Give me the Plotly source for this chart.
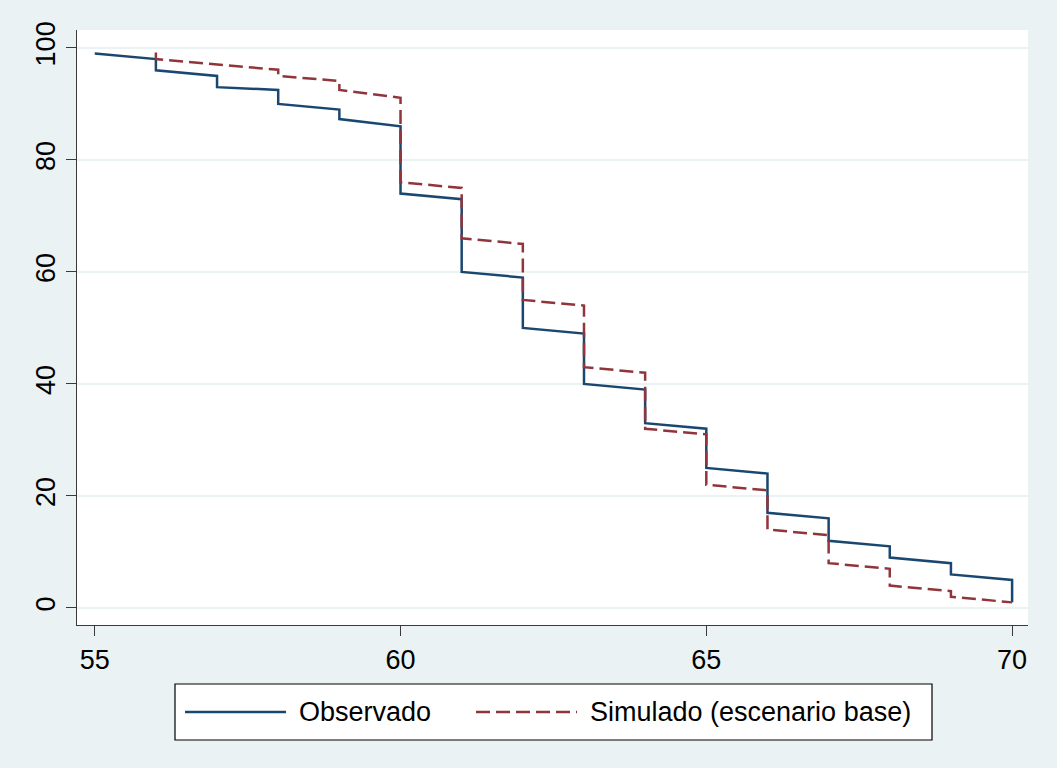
import plotly.graph_objects as go

# Observed series (step-like, declining within each year)
obs_x = [55, 56, 56, 57, 57, 58, 58, 59, 59, 60, 60, 61, 61, 62, 62, 63, 63, 64, 64, 65, 65, 66, 66, 67, 67, 68, 68, 69, 69, 70, 70]
obs_y = [99, 98, 96, 95, 93, 92.5, 90, 89, 87.3, 86, 74, 73, 60, 59, 50, 49, 40, 39, 33, 32, 25, 24, 17, 16, 12, 11, 9, 8, 6, 5, 1]

# Simulated (base scenario)
sim_x = [56, 56, 58, 58, 59, 59, 60, 60, 61, 61, 62, 62, 63, 63, 64, 64, 65, 65, 66, 66, 67, 67, 68, 68, 69, 69, 70]
sim_y = [99.2, 98, 96.1, 95, 94.1, 92.5, 91.1, 76, 75, 66, 65, 55, 54, 43, 42, 32, 31, 22, 21, 14, 13, 8, 7, 4, 3, 2, 1]

x_ticks = [55, 60, 65, 70]
y_ticks = [0, 20, 40, 60, 80, 100]
series_names = ["Observado", "Simulado (escenario base)"]

BLUE = "#1a476f"
RED = "#90353b"
BG = "#eaf2f3"
AXC = "#3a3a3a"
FONT = "Liberation Sans, Arial, sans-serif"
FS = 27

fig = go.Figure()
fig.add_trace(go.Scatter(x=obs_x, y=obs_y, mode="lines", name=series_names[0],
                         line=dict(color=BLUE, width=2.5)))
fig.add_trace(go.Scatter(x=sim_x, y=sim_y, mode="lines", name=series_names[1],
                         line=dict(color=RED, width=2.5, dash="14px,6px")))

fig.update_layout(
    width=1057, height=768,
    margin=dict(l=77, r=29, t=30, b=143),
    paper_bgcolor=BG, plot_bgcolor="white",
    showlegend=False,
    font=dict(family=FONT, size=FS, color="black"),
)
fig.update_xaxes(range=[54.71, 70.26], tickvals=x_ticks, showgrid=False, zeroline=False,
                 showline=True, linecolor=AXC, linewidth=1.3,
                 ticks="outside", ticklen=10, tickcolor=AXC, tickwidth=1.3,
                 ticklabelstandoff=0, tickfont=dict(size=FS))
fig.update_yaxes(range=[-3.04, 103.2], tickvals=y_ticks, showgrid=True, gridcolor=BG, gridwidth=2.2,
                 zeroline=False, showline=True, linecolor=AXC, linewidth=1.3,
                 ticks="outside", ticklen=10, tickcolor=AXC, tickwidth=1.3,
                 tickangle=-90, tickfont=dict(size=FS))

# Manual legend box (paper coordinates)
def px_x(p):
    return (p - 77) / (1057 - 77 - 29)

def px_y(p):
    return (625 - p) / (768 - 30 - 143)

fig.add_shape(type="rect", xref="paper", yref="paper",
              x0=px_x(175), x1=px_x(932), y0=px_y(740), y1=px_y(684),
              line=dict(color="black", width=1.2), fillcolor="white", layer="above")
ly = px_y(712)
fig.add_shape(type="line", xref="paper", yref="paper", x0=px_x(185), x1=px_x(286), y0=ly, y1=ly,
              line=dict(color=BLUE, width=2.5))
fig.add_shape(type="line", xref="paper", yref="paper", x0=px_x(476), x1=px_x(577), y0=ly, y1=ly,
              line=dict(color=RED, width=2.5, dash="14px,6px"))
fig.add_annotation(xref="paper", yref="paper", x=px_x(297), y=ly, text=series_names[0],
                   showarrow=False, xanchor="left", yanchor="middle", font=dict(size=FS))
fig.add_annotation(xref="paper", yref="paper", x=px_x(588), y=ly, text=series_names[1],
                   showarrow=False, xanchor="left", yanchor="middle", font=dict(size=FS))

fig.write_html("out.html", config={"displayModeBar": False},
               post_script="document.body.style.margin='0';document.body.style.background='#eaf2f3';")
